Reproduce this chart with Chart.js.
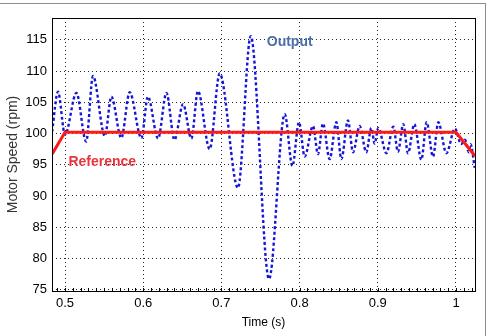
<!DOCTYPE html>
<html>
<head>
<meta charset="UTF-8">
<title>Motor Speed</title>
<script src="https://cdn.jsdelivr.net/npm/chart.js"></script>
<style>
    body { margin: 0; background: #fff; }
    .wrap { position: relative; width: 489px; height: 336px; overflow: hidden; }
    .frame {
        position: absolute; left: 0; top: 3px; width: 485px; height: 340px;
        border-top: 1px solid #8c8c8c; border-right: 1px solid #8c8c8c;
    }
    canvas { position: absolute; left: 0; top: 0; }
</style>
</head>
<body>
<div class="wrap">
    <div class="frame"></div>
    <canvas id="speedChart" width="489" height="336"></canvas>
</div>
<script>
const outTime = [0.4835, 0.491, 0.500, 0.5146, 0.527, 0.5358, 0.551, 0.5593, 0.572, 0.5827,
    0.5977, 0.606, 0.619, 0.6297, 0.640, 0.651, 0.6616, 0.670, 0.685, 0.6978,
    0.7212, 0.7375, 0.7609, 0.781, 0.7908, 0.7992, 0.8065, 0.8171, 0.8235, 0.8299,
    0.8384, 0.8470, 0.8534, 0.8619, 0.8683, 0.8768, 0.8853, 0.8917, 0.8960, 0.9006,
    0.911, 0.9198, 0.9258, 0.9326, 0.9386, 0.9467, 0.9557, 0.9625, 0.9706, 0.9774,
    0.9877, 0.9987, 1.0065, 1.0115, 1.0165, 1.0185, 1.0240];
const outSpeed = [100.3, 106.7, 99.8, 106.5, 98.7, 109.2, 99.6, 105.9, 99.3, 106.6,
    99.25, 105.9, 99.2, 106.5, 99.0, 104.7, 99.2, 106.8, 97.5, 109.6,
    91.3, 115.6, 76.7, 103.1, 94.8, 101.8, 96.3, 101.2, 96.7, 101.6,
    95.9, 101.8, 95.9, 102.1, 97.0, 101.2, 97.0, 100.9, 98.4, 100.9,
    96.85, 101.1, 97.1, 101.5, 96.85, 101.5, 95.8, 101.8, 96.3, 101.8,
    96.85, 100.8, 98.3, 99.0, 97.0, 98.3, 94.5];

// reference speed
const refTime = [0.4834, 0.500, 1.000, 1.0243];
const refSpeed = [96.7, 100.2, 100.2, 96.4];

const xTicks = [0.5, 0.6, 0.7, 0.8, 0.9, 1.0];
const yTicks = [75, 80, 85, 90, 95, 100, 105, 110, 115];

const labelOutput = { text: 'Output', t: 0.7873, v: 114.7, color: '#4a6ea8' };
const labelRef = { text: 'Reference', t: 0.5476, v: 95.45, color: '#e8343c' };

const frameAndLabels = {
    id: 'frameAndLabels',
    afterDatasetsDraw(chart) {
        const { ctx, chartArea: a, scales: { x, y } } = chart;
        ctx.save();
        // minor ticks along the bottom edge
        ctx.strokeStyle = '#000';
        ctx.lineWidth = 1;
        ctx.beginPath();
        for (let i = 49; i <= 102; i++) {
            const px = Math.round(x.getPixelForValue(i / 100)) + 0.5;
            if (px < a.left || px > a.right) continue;
            ctx.moveTo(px, a.bottom);
            ctx.lineTo(px, a.bottom - 3);
        }
        ctx.stroke();
        // box
        ctx.strokeRect(Math.round(a.left) + 0.5, Math.round(a.top) + 0.5,
            Math.round(a.right - a.left), Math.round(a.bottom - a.top));
        // text labels
        ctx.font = 'bold 14px "Liberation Sans", Arial, sans-serif';
        ctx.textAlign = 'center';
        ctx.textBaseline = 'middle';
        [labelOutput, labelRef].forEach(l => {
            ctx.fillStyle = l.color;
            ctx.fillText(l.text, x.getPixelForValue(l.t), y.getPixelForValue(l.v));
        });
        ctx.restore();
    }
};

const gridOpts = {
    color: 'rgba(0,0,0,0.85)',
    lineWidth: 1,
    drawTicks: false
};

new Chart(document.getElementById('speedChart').getContext('2d'), {
    type: 'line',
    data: {
        datasets: [{
            label: 'Reference',
            data: refTime.map((t, i) => ({ x: t, y: refSpeed[i] })),
            borderColor: '#ff1a1a',
            borderWidth: 3,
            pointRadius: 0,
            tension: 0
        }, {
            label: 'Output',
            data: outTime.map((t, i) => ({ x: t, y: outSpeed[i] })),
            borderColor: '#1515d8',
            borderWidth: 2.4,
            borderDash: [3, 2.5],
            pointRadius: 0,
            cubicInterpolationMode: 'monotone'
        }]
    },
    options: {
        responsive: false,
        animation: false,
        layout: { padding: { left: 0, right: 14, top: 18, bottom: 0 } },
        plugins: { legend: { display: false }, tooltip: { enabled: false } },
        scales: {
            x: {
                type: 'linear',
                min: 0.48336,
                max: 1.0243,
                afterBuildTicks: s => { s.ticks = xTicks.map(v => ({ value: v })); },
                afterFit: s => { s.height = 45; },
                grid: { ...gridOpts },
                border: { display: false, dash: [1, 3] },
                ticks: {
                    color: '#000',
                    padding: 5,
                    maxRotation: 0,
                    font: { family: '"Liberation Sans", Arial, sans-serif', size: 13 },
                    callback: v => String(v)
                },
                title: {
                    display: true,
                    text: 'Time (s)',
                    color: '#000',
                    padding: { top: 0, bottom: 6 },
                    font: { family: '"Liberation Sans", Arial, sans-serif', size: 12 }
                }
            },
            y: {
                min: 74.78,
                max: 118.5,
                afterBuildTicks: s => { s.ticks = yTicks.map(v => ({ value: v })); },
                afterFit: s => { s.width = 52; },
                grid: { ...gridOpts },
                border: { display: false, dash: [1, 3] },
                ticks: {
                    color: '#000',
                    padding: 5,
                    font: { family: '"Liberation Sans", Arial, sans-serif', size: 13 }
                },
                title: {
                    display: true,
                    text: 'Motor Speed (rpm)',
                    color: '#333',
                    padding: { top: 5, bottom: 0 },
                    font: { family: '"Liberation Sans", Arial, sans-serif', size: 14 }
                }
            }
        }
    },
    plugins: [frameAndLabels]
});
</script>
</body>
</html>
